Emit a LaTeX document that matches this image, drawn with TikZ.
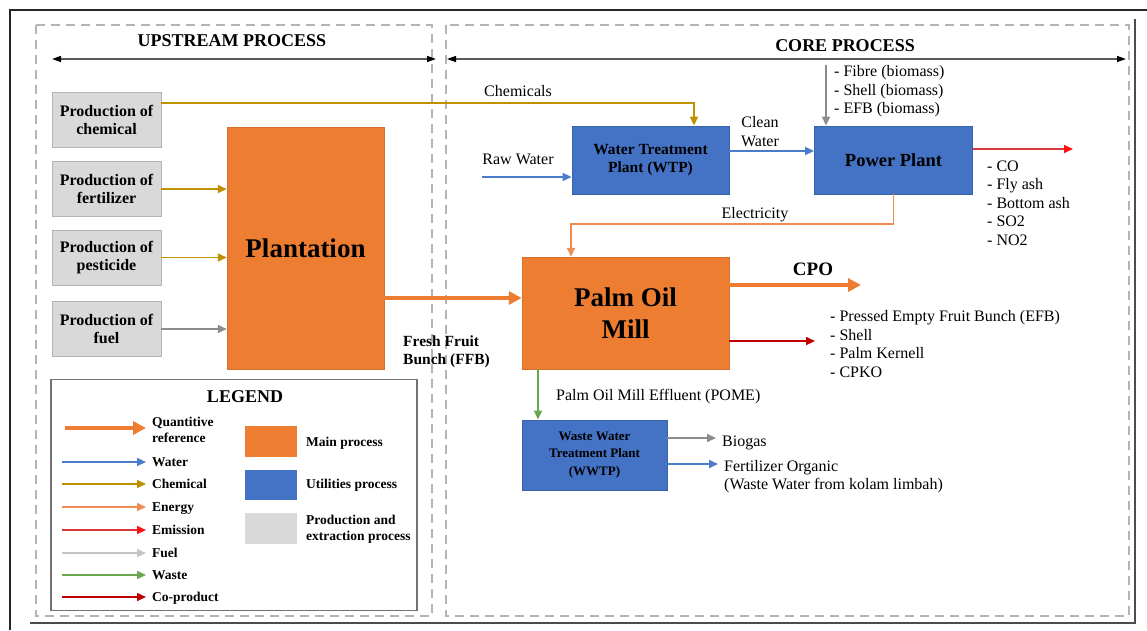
\documentclass[tikz,border=0pt]{standalone}
\usepackage{fontspec}
\setmainfont{Liberation Serif}
\usetikzlibrary{arrows.meta}
\definecolor{orng}{HTML}{ED7D31}
\definecolor{blu}{HTML}{4472C4}
\definecolor{bluedge}{HTML}{3A62AA}
\definecolor{gbox}{HTML}{D9D9D9}
\definecolor{gedge}{HTML}{B4B4B4}
\definecolor{gold}{HTML}{BF9000}
\definecolor{wat}{HTML}{4A7CC9}
\definecolor{enrg}{HTML}{F08C50}
\definecolor{emisl}{HTML}{D83A3A}
\definecolor{emist}{HTML}{FF1010}
\definecolor{fuelc}{HTML}{8C8C8C}
\definecolor{fuell}{HTML}{C4C4C4}
\definecolor{wast}{HTML}{6AA84F}
\definecolor{coprod}{HTML}{C00000}
\definecolor{dashg}{HTML}{B4B4B4}
\newcommand\fsz[2]{\fontsize{#1}{#2}\selectfont}
\begin{document}
\begin{tikzpicture}[x=1pt,y=-1pt,
  tipsm/.style={-{Triangle[length=9pt,width=8pt]}},
  conn/.style={line width=1.6pt,tipsm},
  chemc/.style={conn,draw=gold},
  watc/.style={conn,draw=wat},
  enrc/.style={conn,draw=enrg},
  emic/.style={conn,draw=emisl,-{Triangle[length=9pt,width=8pt,color=emist]}},
  fuelc/.style={conn,draw=fuelc},
  fuellg/.style={conn,draw=fuell},
  wastc/.style={conn,draw=wast},
  copc/.style={conn,draw=coprod},
  quant/.style={line width=4pt,draw=orng,-{Triangle[length=13pt,width=13pt]}},
  basebox/.style={inner sep=1pt,align=center,text=black},
  prod/.style={basebox,fill=gbox,draw=gedge,line width=0.8pt,minimum width=109pt,minimum height=55pt,font=\bfseries\fsz{16}{18}},
  mainp/.style={basebox,fill=orng,draw=orng!90!black,line width=0.5pt},
  util/.style={basebox,fill=blu,draw=bluedge,line width=0.8pt},
  txt/.style={inner sep=0pt,font=\fsz{16}{18.5},align=left},
  ltxt/.style={inner sep=0pt,font=\bfseries\fsz{13.5}{16},align=left},
  sect/.style={draw=dashg,line width=1.5pt,dash pattern=on 9pt off 6pt},
  span/.style={line width=1.4pt,draw=black!65,{Triangle[length=9pt,width=6pt,color=black]}-{Triangle[length=9pt,width=6pt,color=black]}}
]
\useasboundingbox (0,0) rectangle (1147,630);
% outer frame
\draw[line width=2.5pt,black!85] (10,630) -- (10,10) -- (1147,10);
\draw[line width=1.2pt,black!70] (30,623) -- (1135,623) -- (1135,19);
% sections
\draw[sect] (36,25) rectangle (432,616);
\draw[sect] (446,25) rectangle (1129,616);
\node[font=\bfseries\fsz{18}{20}] (uptitle) at (232,41) {UPSTREAM PROCESS};
\node[font=\bfseries\fsz{18}{20}] (coretitle) at (845,46) {CORE PROCESS};
\coordinate (uL) at (52,59); \coordinate (uR) at (436,59);
\coordinate (cL) at (447,59); \coordinate (cR) at (1126,59);
\draw[span] (uL) -- (uR);
\draw[span] (cL) -- (cR);
% upstream boxes
\node[prod] (chem) at (106.5,120) {Production of\\chemical};
\node[prod] (fert) at (106.5,189) {Production of\\fertilizer};
\node[prod] (pest) at (106.5,257.5) {Production of\\pesticide};
\node[prod] (fuel) at (106.5,329) {Production of\\fuel};
\node[mainp,minimum width=157pt,minimum height=242pt,font=\bfseries\fsz{27}{30}] (plant) at (305.5,248.5) {Plantation};
% core boxes
\node[util,minimum width=157pt,minimum height=68pt,font=\bfseries\fsz{15.5}{18}] (wtp) at (650.5,160) {Water Treatment\\Plant (WTP)};
\node[util,minimum width=158pt,minimum height=68pt,font=\bfseries\fsz{18.5}{20}] (pp) at (893.5,160) {Power Plant};
\node[mainp,minimum width=207pt,minimum height=112pt,font=\bfseries\fsz{27}{32}] (pom) at (625.5,313) {Palm Oil\\Mill};
\node[util,minimum width=145pt,minimum height=70pt,font=\bfseries\fsz{13}{17.5}] (wwtp) at (594.5,455) {Waste Water\\Treatment Plant\\(WWTP)};
% upstream connectors
\draw[chemc] ([yshift=17pt]chem.east) -| ([xshift=43.5pt]wtp.north);
\draw[chemc] (fert.east) -- (fert.east -| plant.west);
\draw[chemc] (pest.east) -- (pest.east -| plant.west);
\draw[fuelc] (fuel.east) -- (fuel.east -| plant.west);
\node[txt,anchor=base] (chemlbl) at (518,96) {Chemicals};
% FFB
\draw[quant] ([yshift=-49.5pt]plant.east) -- ([yshift=-49.5pt]plant.east -| pom.west);
\node[ltxt,font=\bfseries\fsz{15.5}{18},anchor=west] (ffb) at (403,352) {Fresh Fruit\\Bunch (FFB)};
% water
\coordinate (rawin) at (482,177);
\draw[watc] (rawin) -- (rawin -| wtp.west);
\node[txt,anchor=base] (rawlbl) at (518,164) {Raw Water};
\draw[watc] ([yshift=9pt]wtp.east) -- ([yshift=9pt]wtp.east -| pp.west);
\node[txt,align=center] (cleanlbl) at (760,131.5) {Clean\\Water};
% biomass
\coordinate (bioin) at (826,65);
\draw[fuelc] (bioin) -- (bioin |- pp.north);
\node[txt,anchor=west] (biolist) at (834,91.5) {- Fibre (biomass)\\- Shell (biomass)\\- EFB (biomass)};
% emission
\coordinate (emout) at (1073,149);
\draw[emic] (emout -| pp.east) -- (emout);
\node[txt,anchor=west] (emlist) at (987,203) {- CO\\- Fly ash\\- Bottom ash\\- SO2\\- NO2};
% electricity
\coordinate (elbow) at (571,224);
\draw[enrc] (pp.south) |- (elbow) -- (elbow |- pom.north);
\node[txt,anchor=base] (eleclbl) at (755,218) {Electricity};
% CPO
\coordinate (cpoout) at (861,285);
\draw[quant] (cpoout -| pom.east) -- (cpoout);
\node[font=\bfseries\fsz{19}{21},inner sep=0pt,anchor=base] (cpolbl) at (813,275) {CPO};
% co-products
\coordinate (copout) at (815,341);
\draw[copc] (copout -| pom.east) -- (copout);
\node[txt,anchor=west] (coplist) at (830,344) {- Pressed Empty Fruit Bunch (EFB)\\- Shell\\- Palm Kernell\\- CPKO};
% POME
\coordinate (pomex) at (538,0);
\draw[wastc] (pom.south -| pomex) -- (wwtp.north -| pomex);
\node[txt,anchor=base west] (pomelbl) at (556,400) {Palm Oil Mill Effluent (POME)};
% WWTP outputs
\coordinate (bgout) at (716,438);
\draw[fuelc] (bgout -| wwtp.east) -- (bgout);
\node[txt,anchor=base west] (bglbl) at (722,446) {Biogas};
\coordinate (fout) at (718,464);
\draw[watc] (fout -| wwtp.east) -- (fout);
\node[txt,anchor=west] (flbl) at (724,476.5) {Fertilizer Organic\\(Waste Water from kolam limbah)};
% legend
\node[draw=black!55,line width=1.2pt,minimum width=366pt,minimum height=231pt,inner sep=0pt] (legend) at (234,495) {};
\node[font=\bfseries\fsz{18}{20},inner sep=0pt] (legtitle) at (245,397) {LEGEND};
\coordinate (lq1) at (65,428); \coordinate (lq2) at (146,428);
\draw[quant] (lq1) -- (lq2);
\node[ltxt,anchor=west] (lqt) at (152,430) {Quantitive\\reference};
\coordinate (lw1) at (62,462); \coordinate (lw2) at (146,462);
\draw[watc] (lw1) -- (lw2);
\node[ltxt,anchor=base west] (lwt) at (152,466.5) {Water};
\coordinate (lc1) at (62,484); \coordinate (lc2) at (146,484);
\draw[chemc] (lc1) -- (lc2);
\node[ltxt,anchor=base west] (lct) at (152,488.5) {Chemical};
\coordinate (le1) at (62,507); \coordinate (le2) at (146,507);
\draw[enrc] (le1) -- (le2);
\node[ltxt,anchor=base west] (let) at (152,511.5) {Energy};
\coordinate (lm1) at (62,530); \coordinate (lm2) at (146,530);
\draw[emic] (lm1) -- (lm2);
\node[ltxt,anchor=base west] (lmt) at (152,534.5) {Emission};
\coordinate (lf1) at (62,553); \coordinate (lf2) at (146,553);
\draw[fuellg] (lf1) -- (lf2);
\node[ltxt,anchor=base west] (lft) at (152,557.5) {Fuel};
\coordinate (lx1) at (62,575); \coordinate (lx2) at (146,575);
\draw[wastc] (lx1) -- (lx2);
\node[ltxt,anchor=base west] (lxt) at (152,579.5) {Waste};
\coordinate (lp1) at (62,597); \coordinate (lp2) at (146,597);
\draw[copc] (lp1) -- (lp2);
\node[ltxt,anchor=base west] (lpt) at (152,601.5) {Co-product};
\node[fill=orng,minimum width=52pt,minimum height=31pt,inner sep=0pt] (sqm) at (271,441.5) {};
\node[fill=blu,minimum width=52pt,minimum height=30pt,inner sep=0pt] (squ) at (271,485) {};
\node[fill=gbox,minimum width=52pt,minimum height=31pt,inner sep=0pt] (sqp) at (271,528.5) {};
\node[ltxt,anchor=base west] (sqmt) at (306,446.5) {Main process};
\node[ltxt,anchor=base west] (squt) at (306,488.5) {Utilities process};
\node[ltxt,anchor=west] (sqpt) at (306,529.5) {Production and\\extraction process};
\end{tikzpicture}
\end{document}
